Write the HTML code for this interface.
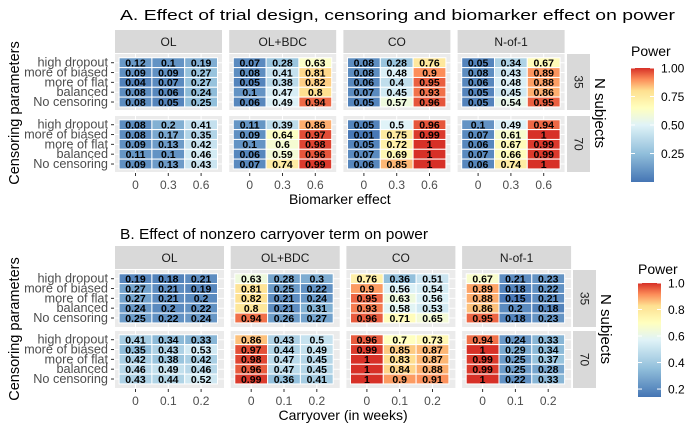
<!DOCTYPE html>
<html><head><meta charset="utf-8"><style>
html,body{margin:0;padding:0;background:#fff;}
svg{display:block;font-family:"Liberation Sans",sans-serif;}
</style></head><body>
<svg id="chart" width="700" height="432" viewBox="0 0 700 432"></svg>
<script>
const designs = ["OL","OL+BDC","CO","N-of-1"];
const censoring = ["high dropout","more of biased","more of flat","balanced","No censoring"];
const nSubjects = ["35","70"];
const xLabelsA = ["0","0.3","0.6"];
const xLabelsB = ["0","0.1","0.2"];
const valsA_OL = [[[.12,.1,.19],[.09,.09,.27],[.04,.07,.27],[.08,.06,.24],[.08,.05,.25]],[[.08,.2,.41],[.08,.17,.35],[.09,.13,.42],[.11,.1,.46],[.09,.13,.43]]];
const valsA_BDC = [[[.07,.28,.63],[.08,.41,.81],[.05,.38,.82],[.1,.47,.8],[.06,.49,.94]],[[.11,.39,.86],[.09,.64,.97],[.1,.6,.98],[.06,.59,.96],[.07,.74,.99]]];
const valsA_CO = [[[.08,.28,.76],[.08,.48,.9],[.06,.4,.95],[.07,.45,.93],[.05,.57,.96]],[[.05,.5,.96],[.01,.75,.99],[.05,.72,1],[.07,.69,1],[.06,.85,1]]];
const valsA_N1 = [[[.05,.34,.67],[.08,.43,.89],[.06,.48,.88],[.05,.45,.86],[.05,.54,.95]],[[.1,.49,.94],[.07,.61,1],[.06,.67,.99],[.07,.66,.99],[.06,.74,1]]];
const valsB_OL = [[[.19,.18,.21],[.27,.21,.19],[.27,.21,.2],[.24,.2,.22],[.25,.22,.24]],[[.41,.34,.33],[.35,.43,.53],[.42,.38,.42],[.46,.49,.46],[.43,.44,.52]]];
const valsB_BDC = [[[.63,.28,.3],[.81,.25,.22],[.82,.21,.24],[.8,.21,.31],[.94,.26,.27]],[[.86,.43,.5],[.97,.44,.49],[.98,.47,.45],[.96,.47,.45],[.99,.36,.41]]];
const valsB_CO = [[[.76,.36,.51],[.9,.56,.54],[.95,.63,.56],[.93,.58,.53],[.96,.71,.65]],[[.96,.7,.73],[.99,.85,.87],[1,.83,.87],[1,.84,.88],[1,.9,.91]]];
const valsB_N1 = [[[.67,.21,.23],[.89,.18,.22],[.88,.15,.21],[.86,.2,.18],[.95,.18,.23]],[[.94,.24,.33],[1,.29,.34],[.99,.25,.37],[.99,.25,.28],[1,.22,.33]]];
const legendTicksA = [0.25,0.5,0.75,1.0];
const legendTicksB = [0.2,0.4,0.6,0.8,1.0];

const NS="http://www.w3.org/2000/svg";
const svg=document.getElementById('chart');
function mk(tag,attrs,parent,text){const e=document.createElementNS(NS,tag);for(const k in attrs)e.setAttribute(k,attrs[k]);if(text!==undefined)e.textContent=text;(parent||svg).appendChild(e);return e;}
const stops=[[0,[69,117,180]],[0.25,[145,191,219]],[0.5,[224,243,248]],[0.65,[255,255,191]],[0.8,[254,224,144]],[0.9,[252,141,89]],[1,[215,48,39]]];
function col(t){t=Math.max(0,Math.min(1,t));for(let i=1;i<stops.length;i++){if(t<=stops[i][0]){const a=stops[i-1],b=stops[i];const f=(t-a[0])/(b[0]-a[0]);const c=a[1].map((v,k)=>Math.round(v+f*(b[1][k]-v)));return `rgb(${c.join(',')})`;}}return 'rgb(215,48,39)';}

function panelSet(cfg){
  const g=mk('g',{});
  
  
  const t=mk('text',{x:120,y:cfg.titleY,'font-size':15,fill:'#000',textLength:cfg.titleLen,lengthAdjust:'spacingAndGlyphs'},g,cfg.title);
  
  
  const rowH=9.83,pad=8.7,pw=cfg.pw,colStep=32.8,colOff=20.5;
  const xs=(p,c)=>cfg.x0+p*cfg.stride+colOff+c*colStep;
  const ys=(gi,r)=>cfg.gTop[gi]+pad+r*rowH;
  cfg.vals.forEach((dv,p)=>{
    const px=cfg.x0+p*cfg.stride;
    const s=mk('rect',{x:px,y:cfg.stripTop,width:pw,height:cfg.gTop[0]-cfg.stripTop-1,fill:'#d9d9d9'},g);
    
    
    const st=mk('text',{x:px+pw/2,y:(cfg.stripTop+cfg.gTop[0])/2+4,'font-size':12,fill:'#1a1a1a','text-anchor':'middle'},g,designs[p]);
    
    
    dv.forEach((grid,gi)=>{
      const top=cfg.gTop[gi];
      const bg=mk('rect',{x:px,y:top,width:pw,height:cfg.gH,fill:'#ebebeb'},g);
      
      
      for(let c=0;c<3;c++)mk('line',{x1:xs(p,c),x2:xs(p,c),y1:top,y2:top+cfg.gH,stroke:'#fff','stroke-width':1},g);
      for(let r=0;r<5;r++)mk('line',{x1:px,x2:px+pw,y1:ys(gi,r),y2:ys(gi,r),stroke:'#fff','stroke-width':1},g);
      grid.forEach((row,r)=>row.forEach((v,c)=>{
        const t=cfg.norm(v);
        const cell=mk('rect',{x:xs(p,c)-colStep/2,y:ys(gi,r)-rowH/2,width:colStep,height:rowH,fill:col(t),stroke:'#fff','stroke-width':1},g);
        
        
        const lbl=mk('text',{x:xs(p,c),y:ys(gi,r)+3.8,'font-size':10.5,'font-weight':'bold',fill:'#000','text-anchor':'middle'},g,String(v));
        
        
      }));
      if(p===0){
        censoring.forEach((cn,r)=>{
          const tl=mk('text',{x:cfg.x0-7,y:ys(gi,r)+4,'font-size':12.7,fill:'#4d4d4d','text-anchor':'end'},g,cn);
          
          
          mk('line',{x1:cfg.x0-4,x2:cfg.x0-1,y1:ys(gi,r),y2:ys(gi,r),stroke:'#333'},g);
        });
      }
    });
    const bottom=cfg.gTop[1]+cfg.gH;
    cfg.xLabels.forEach((xl,c)=>{
      mk('line',{x1:xs(p,c),x2:xs(p,c),y1:bottom+1,y2:bottom+4,stroke:'#333'},g);
      const tx=mk('text',{x:xs(p,c),y:bottom+17,'font-size':12,fill:'#4d4d4d','text-anchor':'middle'},g,xl);
      
      
    });
  });
  nSubjects.forEach((n,gi)=>{
    const rs=mk('rect',{x:cfg.rsX,y:cfg.gTop[gi],width:23,height:cfg.gH,fill:'#d9d9d9'},g);
    
    
    const cy=cfg.gTop[gi]+cfg.gH/2, cx=cfg.rsX+11.5;
    const rt=mk('text',{x:cx,y:cy+4,'font-size':12,fill:'#1a1a1a','text-anchor':'middle',transform:`rotate(90 ${cx} ${cy})`},g,n);
    
    
  });
  const ncx=cfg.rsX+33, ncy=(cfg.gTop[0]+cfg.gTop[1]+cfg.gH)/2;
  const ns=mk('text',{x:ncx,y:ncy+5,'font-size':15,fill:'#000','text-anchor':'middle',transform:`rotate(90 ${ncx} ${ncy})`},g,'N subjects');
  
  
  const ycy=ncy;
  const yt=mk('text',{x:14,y:ycy+5,'font-size':14.5,fill:'#000','text-anchor':'middle',transform:`rotate(-90 14 ${ycy})`},g,'Censoring parameters');
  
  
  const xt=mk('text',{x:cfg.x0+(cfg.stride*3+pw)/2,y:cfg.gTop[1]+cfg.gH+32,'font-size':14,fill:'#000','text-anchor':'middle'},g,cfg.xTitle);
  
  
  const L=cfg.leg;
  const lt=mk('text',{x:L.x,y:L.titleY,'font-size':14,fill:'#000'},g,'Power');
  
  
  const gid='grad'+cfg.name;
  const defs=mk('defs',{},g);
  const lg=mk('linearGradient',{id:gid,x1:0,y1:1,x2:0,y2:0},defs);
  for(let i=0;i<=20;i++){const v=L.lo+(L.hi-L.lo)*i/20;mk('stop',{offset:i/20,'stop-color':col(cfg.norm(v))},lg);}
  const bar=mk('rect',{x:L.x,y:L.top,width:23,height:L.bot-L.top,fill:`url(#${gid})`},g);
  
  
  const ly=v=>L.bot-(v-L.lo)/(L.hi-L.lo)*(L.bot-L.top);
  L.ticks.forEach(v=>{
    const y=ly(v);
    mk('line',{x1:L.x,x2:L.x+4,y1:y,y2:y,stroke:'#fff'},g);
    mk('line',{x1:L.x+19,x2:L.x+23,y1:y,y2:y,stroke:'#fff'},g);
    const tl=mk('text',{x:L.x+30,y:y+4.5,'font-size':12,fill:'#000'},g,v.toFixed(L.dec));
    
    
  });
}
panelSet({name:'panel-a',title:'A. Effect of trial design, censoring and biomarker effect on power',titleY:20,titleLen:555,
  vals:[valsA_OL,valsA_BDC,valsA_CO,valsA_N1],x0:115,stride:114.2,pw:107,stripTop:30,gTop:[54,116],gH:56,rsX:567,
  xLabels:xLabelsA,xTitle:'Biomarker effect',norm:v=>v,
  leg:{x:631,titleY:56,top:68,bot:182,lo:0,hi:1.0,ticks:legendTicksA,dec:2}});
panelSet({name:'panel-b',title:'B. Effect of nonzero carryover term on power',titleY:239,titleLen:308,
  vals:[valsB_OL,valsB_BDC,valsB_CO,valsB_N1],x0:115,stride:115.7,pw:109,stripTop:246,gTop:[270,331],gH:57,rsX:573,
  xLabels:xLabelsB,xTitle:'Carryover (in weeks)',norm:v=>(v-0.14)/0.86,
  leg:{x:638,titleY:274,top:283,bot:397,lo:0.14,hi:1.0,ticks:legendTicksB,dec:1}});
</script>
</body></html>
